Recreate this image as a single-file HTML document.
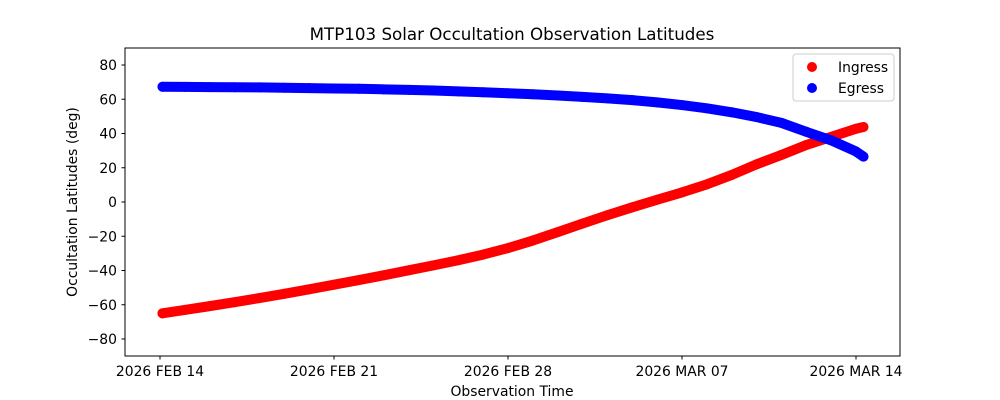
<!DOCTYPE html>
<html><head><meta charset="utf-8"><style>
html,body{margin:0;padding:0;background:#fff;}
svg{display:block;font-family:"DejaVu Sans","Liberation Sans",sans-serif;}
</style></head><body>
<svg id="chart" width="1000" height="400" xmlns="http://www.w3.org/2000/svg">
<rect width="1000" height="400" fill="#fff"/>
<text x="512" y="40" text-anchor="middle" font-size="16.7">MTP103 Solar Occultation Observation Latitudes</text>
<g id="marks"></g>
<rect x="125" y="48" width="775" height="308" fill="none" stroke="#000" stroke-width="1"/>
<g id="axes"></g>
<text x="512" y="396" text-anchor="middle" font-size="13.9">Observation Time</text>
<text transform="translate(77,202) rotate(-90)" text-anchor="middle" font-size="13.9">Occultation Latitudes (deg)</text>
<g>
<rect x="793" y="54" width="101" height="47" rx="3" fill="#fff" fill-opacity="0.8" stroke="#ccc"/>
<circle cx="812" cy="67" r="5" fill="red"/>
<text x="838" y="72" font-size="13.9">Ingress</text>
<circle cx="812" cy="88" r="5" fill="blue"/>
<text x="838" y="93" font-size="13.9">Egress</text>
</g>
</svg>
<script>
const days = [0.1,1,2,3,4,5,6,7,8,9,10,11,12,13,14,15,16,17,18,19,20,21,22,23,24,25,26,27,28,28.3];
const ingress = [-65,-63,-60.8,-58.5,-56.1,-53.6,-51,-48.3,-45.6,-42.8,-39.9,-37,-34,-30.7,-26.9,-22.5,-17.6,-12.6,-7.7,-3.1,1.3,5.6,10.3,15.8,22,27.5,33.3,38,42.8,43.8];
const egress = [67.3,67.2,67.1,67,66.9,66.7,66.5,66.3,66.1,65.8,65.5,65.1,64.6,64.1,63.5,62.9,62.2,61.4,60.5,59.5,58.2,56.6,54.7,52.4,49.6,46.2,41,36,29.5,26.5];
const yTicks = [-80,-60,-40,-20,0,20,40,60,80];
const xTickDays = [0,7,14,21,28];
const xTickLabels = ["2026 FEB 14","2026 FEB 21","2026 FEB 28","2026 MAR 07","2026 MAR 14"];
const NS="http://www.w3.org/2000/svg";
const xs = d => 160 + d*174/7;
const ys = v => 202 - v*1.7125;
const marks=document.getElementById('marks'), axes=document.getElementById('axes');
function mk(tag, attrs, parent){const e=document.createElementNS(NS,tag);for(const k in attrs)e.setAttribute(k,attrs[k]);parent.appendChild(e);return e;}
function series(vals,color,name){
  const g=mk('g',{},marks);
  
  
  const pts=days.map((d,i)=>xs(d)+','+ys(vals[i])).join(' ');
  mk('polyline',{points:pts,fill:'none',stroke:color,'stroke-width':10,'stroke-linecap':'round','stroke-linejoin':'round'},g);
  days.forEach((d,i)=>{
    const c=mk('circle',{cx:xs(d),cy:ys(vals[i]),r:5,fill:color},g);
    
    
  });
}
series(ingress,'red','ingress');
series(egress,'blue','egress');
yTicks.forEach(v=>{
  const y=ys(v);
  mk('line',{x1:121.5,x2:125,y1:y,y2:y,stroke:'#000'},axes);
  const t=mk('text',{x:117,y:y+5,'text-anchor':'end','font-size':13.9},axes);
  t.textContent=v<0?'\u2212'+Math.abs(v):String(v);
  
  
});
xTickDays.forEach((d,i)=>{
  const x=xs(d);
  mk('line',{x1:x,x2:x,y1:356,y2:359.5,stroke:'#000'},axes);
  const t=mk('text',{x:x,y:376,'text-anchor':'middle','font-size':13.9},axes);
  t.textContent=xTickLabels[i];
  
  
});
</script>
</body></html>
